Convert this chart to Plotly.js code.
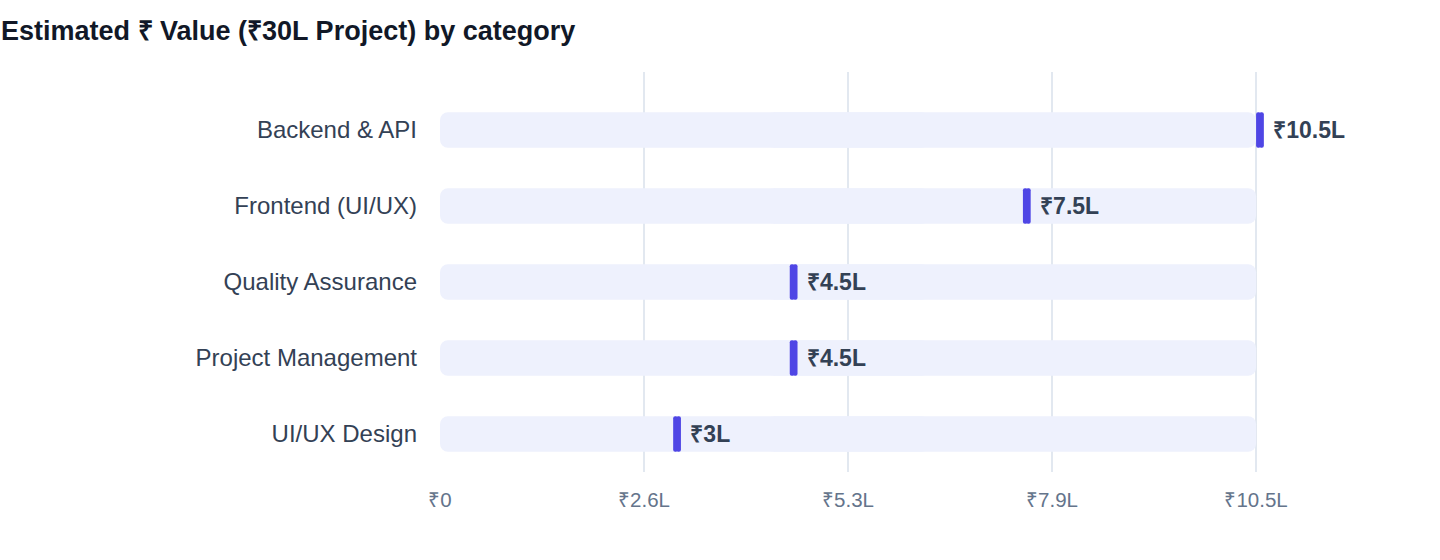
<!DOCTYPE html>
<html>
<head>
<meta charset="utf-8">
<script src="https://cdn.plot.ly/plotly-3.0.1.min.js"></script>
<style>
  html, body { margin: 0; padding: 0; background: #fff; }
  #chart { width: 1440px; height: 560px; }
</style>
</head>
<body>
<div id="chart"></div>
<script>
const categories = ["Backend & API", "Frontend (UI/UX)", "Quality Assurance", "Project Management", "UI/UX Design"];
const values = [10.5, 7.5, 4.5, 4.5, 3];
const valueLabels = ["₹10.5L", "₹7.5L", "₹4.5L", "₹4.5L", "₹3L"];
const tickVals = [0, 2.625, 5.25, 7.875, 10.5];
const tickText = ["₹0", "₹2.6L", "₹5.3L", "₹7.9L", "₹10.5L"];

const maxVal = Math.max(...values);
const font = "Liberation Sans, Arial, Helvetica, sans-serif";
const trackColor = "#eef1fd";
const pillColor = "#4f46e5";
const pillLen = 0.1;

// horizontal bar rounded at both ends: two overlapping halves, one pointing each way
function roundedBar(start, len, color, radius) {
  const common = {
    type: "bar",
    orientation: "h",
    y: categories,
    width: 0.47,
    hoverinfo: "skip",
    showlegend: false,
    cliponaxis: false
  };
  const left = Object.assign({}, common, {
    base: start.map(s => s + len * 0.6),
    x: start.map(() => -len * 0.6),
    marker: { color: color, cornerradius: radius }
  });
  const right = Object.assign({}, common, {
    base: start.map(s => s + len * 0.4),
    x: start.map(() => len * 0.6),
    marker: { color: color, cornerradius: radius }
  });
  return [left, right];
}

const tracks = roundedBar(values.map(() => 0), maxVal, trackColor, 8);
const pills = roundedBar(values, pillLen, pillColor, 4);

// value labels sit just outside the right half of the pill
pills[1].text = valueLabels.map(t => " " + t);
pills[1].textposition = "outside";
pills[1].textfont = { family: font, size: 23, color: "#334155", weight: 700 };

const layout = {
  width: 1440,
  height: 560,
  margin: { l: 440, r: 176, t: 72, b: 88 },
  paper_bgcolor: "#ffffff",
  plot_bgcolor: "#ffffff",
  barmode: "overlay",
  font: { family: font },
  title: {
    text: "Estimated ₹ Value (₹30L Project) by category",
    font: { family: font, size: 27, color: "#111827", weight: 700 },
    xref: "container",
    x: 0,
    xanchor: "left",
    yref: "container",
    y: 1 - 31 / 560,
    yanchor: "middle",
    pad: { l: 1 }
  },
  xaxis: {
    range: [0, maxVal * 1.0097],
    tickvals: tickVals,
    ticktext: tickText,
    tickfont: { family: font, size: 20.5, color: "#64748b" },
    showgrid: true,
    gridcolor: "#e2e8f0",
    gridwidth: 1.5,
    zeroline: false,
    showline: false,
    ticks: "",
    ticklabelstandoff: 13,
    fixedrange: true
  },
  yaxis: {
    type: "category",
    categoryorder: "array",
    categoryarray: categories,
    range: [4.5, -0.763],
    tickfont: { family: font, size: 24, color: "#334155" },
    showgrid: false,
    zeroline: false,
    showline: false,
    ticks: "",
    ticklabelstandoff: 22,
    fixedrange: true
  }
};

Plotly.newPlot("chart", tracks.concat(pills), layout, { displayModeBar: false, staticPlot: true });
</script>
</body>
</html>
